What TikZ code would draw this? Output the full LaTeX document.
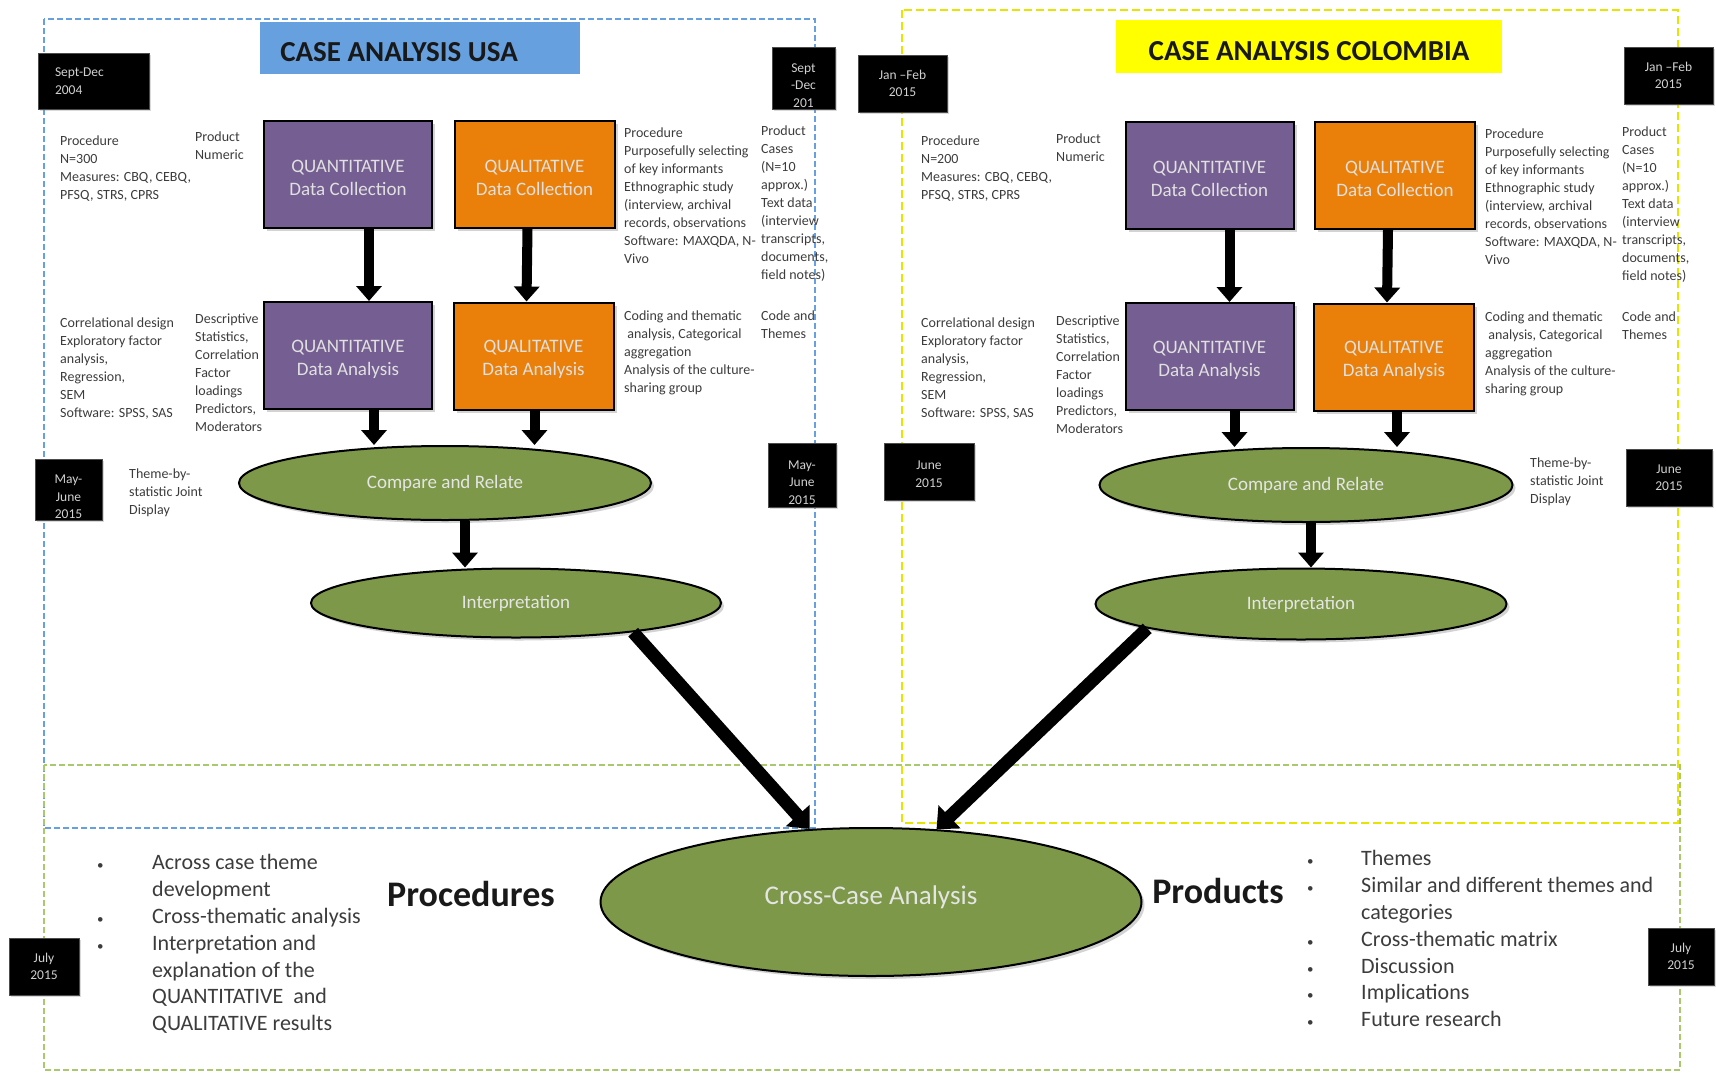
\documentclass[tikz,border=0pt]{standalone}
\usepackage{fontspec}
\setmainfont{Carlito}
\usepackage{tikz}
\usetikzlibrary{arrows.meta,shapes.geometric,shadows}

\definecolor{quantpurple}{RGB}{117,94,145}
\definecolor{qualorange}{RGB}{234,128,10}
\definecolor{ovalgreen}{RGB}{125,152,72}
\definecolor{usablue}{RGB}{102,160,222}
\definecolor{colyellow}{RGB}{255,255,0}
\definecolor{framegreen}{RGB}{170,200,110}
\definecolor{notegray}{RGB}{60,60,60}

\tikzset{
  databox/.style={draw=black, line width=2pt, minimum height=107pt, inner sep=0pt,
    align=center, text=white!88!black, font=\fontsize{19}{23}\selectfont,
    drop shadow={shadow xshift=3pt, shadow yshift=-3pt, opacity=0.35}},
  quantbox/.style={databox, fill=quantpurple, minimum width=168pt},
  qualbox/.style={databox, fill=qualorange, minimum width=160pt},
  oval/.style={ellipse, draw=black, line width=2pt, fill=ovalgreen, inner sep=0pt,
    text=white!90!black, font=\fontsize{19}{23}\selectfont,
    drop shadow={shadow xshift=3pt, shadow yshift=-3pt, opacity=0.35}},
  datebox/.style={fill=black, draw=black!70, inner sep=0pt, align=center,
    text=white!82!black, font=\fontsize{13.5}{17.5}\selectfont,
    drop shadow={shadow xshift=2pt, shadow yshift=-2pt, opacity=0.3}},
  note/.style={anchor=north west, inner sep=0pt, align=left, text=notegray,
    font=\fontsize{14}{18}\selectfont},
  title/.style={font=\fontsize{29}{34}\bfseries, text=black!90},
  flow/.style={line width=10pt, -{Triangle[length=15pt,width=25pt]}},
  bigflow/.style={line width=13pt, -{Triangle[length=18pt,width=31pt]}},
}

\newcommand{\bulletfont}{\fontsize{22}{26.8}\selectfont}
\newcommand{\smallbul}{{\fontsize{13}{13}\selectfont •}}
\newcommand{\boxstrut}{\rule{0pt}{20pt}}
\newcommand{\datestrut}{\rule{0pt}{24pt}}

\begin{document}
\begin{tikzpicture}[x=1pt,y=-1pt]
\useasboundingbox (0,0) rectangle (1716,1074);

% Frames round the two cases and the cross-case part
\draw[usablue, line width=2pt, dash pattern=on 6pt off 3pt] (44,19) rectangle (815,828);
\draw[colyellow!90!black, line width=2pt, dash pattern=on 8pt off 4pt] (902,10) rectangle (1678,823);
\draw[framegreen, line width=2pt, dash pattern=on 6pt off 3pt] (44,765) rectangle (1680,1070);

% Titles
\node[fill=usablue, minimum width=320pt, minimum height=52pt] (tusa) at (420,48) {};
\node[title] (tusatext) at (399,52) {CASE ANALYSIS USA};
\node[fill=colyellow, minimum width=386pt, minimum height=53pt] (tcol) at (1309,46.5) {};
\node[title] (tcoltext) at (1309,51) {CASE ANALYSIS COLOMBIA};

% Notes of the USA case
\node[note] (procnu) at (60,136) {Procedure\\N=300\\Measures: CBQ, CEBQ,\\PFSQ, STRS, CPRS};
\node[note] (prodnu) at (195,132) {Product\\Numeric};
\node[note] (proclu) at (624,128) {Procedure\\Purposefully selecting\\of key informants\\Ethnographic study\\(interview, archival\\records, observations\\Software: MAXQDA, N-\\Vivo};
\node[note] (prodlu) at (761,126) {Product\\Cases\\(N=10\\approx.)\\Text data\\(interview\\transcripts,\\documents,\\field notes)};
\node[note] (anaqnu) at (60,318) {Correlational design\\Exploratory factor\\analysis,\\Regression,\\SEM\\Software: SPSS, SAS};
\node[note] (resqnu) at (195,314) {Descriptive\\Statistics,\\Correlation\\Factor\\loadings\\Predictors,\\Moderators};
\node[note] (anaqlu) at (624,311) {Coding and thematic\\\ analysis, Categorical\\aggregation\\Analysis of the culture-\\sharing group};
\node[note] (resqlu) at (761,311) {Code and\\Themes};
\node[note] (jointu) at (129,469) {Theme-by-\\statistic Joint\\Display};

% Notes of the Colombia case
\node[note] (procnc) at (921,136) {Procedure\\N=200\\Measures: CBQ, CEBQ,\\PFSQ, STRS, CPRS};
\node[note] (prodnc) at (1056,134) {Product\\Numeric};
\node[note] (proclc) at (1485,129) {Procedure\\Purposefully selecting\\of key informants\\Ethnographic study\\(interview, archival\\records, observations\\Software: MAXQDA, N-\\Vivo};
\node[note] (prodlc) at (1622,127) {Product\\Cases\\(N=10\\approx.)\\Text data\\(interview\\transcripts,\\documents,\\field notes)};
\node[note] (anaqnc) at (921,318) {Correlational design\\Exploratory factor\\analysis,\\Regression,\\SEM\\Software: SPSS, SAS};
\node[note] (resqnc) at (1056,316) {Descriptive\\Statistics,\\Correlation\\Factor\\loadings\\Predictors,\\Moderators};
\node[note] (anaqlc) at (1485,312) {Coding and thematic\\\ analysis, Categorical\\aggregation\\Analysis of the culture-\\sharing group};
\node[note] (resqlc) at (1622,312) {Code and\\Themes};
\node[note] (jointc) at (1530,458) {Theme-by-\\statistic Joint\\Display};

% Data boxes
\node[quantbox] (qncu) at (348,174) {\boxstrut QUANTITATIVE\\Data Collection};
\node[qualbox] (qlcu) at (534.5,174) {\boxstrut QUALITATIVE\\Data Collection};
\node[quantbox] (qnau) at (348,355.5) {\boxstrut QUANTITATIVE\\Data Analysis};
\node[qualbox] (qlau) at (533.5,356) {\boxstrut QUALITATIVE\\Data Analysis};
\node[quantbox] (qncc) at (1209.5,175) {\boxstrut QUANTITATIVE\\Data Collection};
\node[qualbox] (qlcc) at (1395,175) {\boxstrut QUALITATIVE\\Data Collection};
\node[quantbox] (qnac) at (1209.5,356.5) {\boxstrut QUANTITATIVE\\Data Analysis};
\node[qualbox] (qlac) at (1394,357) {\boxstrut QUALITATIVE\\Data Analysis};

% Ovals
\node[oval, minimum width=412pt, minimum height=74pt] (cru) at (445,483) {\raisebox{-3pt}{Compare and Relate}};
\node[oval, minimum width=410pt, minimum height=69pt] (iu) at (516,603) {Interpretation};
\node[oval, minimum width=413pt, minimum height=74pt] (crc) at (1306,485) {\raisebox{-2pt}{Compare and Relate}};
\node[oval, minimum width=411pt, minimum height=71pt] (ic) at (1301,604) {Interpretation};
\node[oval, minimum width=541pt, minimum height=148pt, font=\fontsize{27}{32}\selectfont] (cc) at (871,902) {\raisebox{14pt}{Cross-Case Analysis}};

% Arrows of the USA case
\draw[flow] ([xshift=21pt]qncu.south) -- ([xshift=21pt]qnau.north);
\draw[flow] ([xshift=-7pt]qlcu.south) -- ([xshift=-7pt]qlau.north);
\draw[flow] ([xshift=26pt]qnau.south) -- ([xshift=26pt]qnau.south |- cru.north);
\draw[flow] ([xshift=1pt]qlau.south) -- ([xshift=1pt]qlau.south |- cru.north);
\draw[flow] ([xshift=20pt]cru.south) -- ([xshift=20pt]cru.south |- iu.north);

% Arrows of the Colombia case
\draw[flow] ([xshift=20pt]qncc.south) -- ([xshift=20pt]qnac.north);
\draw[flow] ([xshift=-7pt]qlcc.south) -- ([xshift=-7pt]qlac.north);
\draw[flow] ([xshift=25pt]qnac.south) -- ([xshift=25pt]qnac.south |- crc.north);
\draw[flow] ([xshift=3pt]qlac.south) -- ([xshift=3pt]qlac.south |- crc.north);
\draw[flow] ([xshift=5pt]crc.south) -- ([xshift=5pt]crc.south |- ic.north);

% Both cases into the cross-case analysis
\draw[bigflow] (iu.-14) -- (cc.130);
\draw[bigflow] (ic.-171) -- (cc.48);

% Dates
\node[datebox, minimum width=111pt, minimum height=56pt, text width=77pt, align=left] (d1) at (93.5,81) {Sept-Dec\\2004};
\node[datebox, minimum width=63pt, minimum height=62pt] (d2) at (803.5,78) {\datestrut Sept\\-Dec\\201};
\node[datebox, minimum width=89pt, minimum height=57pt] (d3) at (902.5,83.5) {Jan –Feb\\2015};
\node[datebox, minimum width=89pt, minimum height=57pt] (d4) at (1668.5,75.5) {Jan –Feb\\2015};
\node[datebox, minimum width=67pt, minimum height=61pt] (d5) at (68.5,489.5) {\datestrut May-\\June\\2015};
\node[datebox, minimum width=68pt, minimum height=64pt] (d6) at (802,475) {\datestrut May-\\June\\2015};
\node[datebox, minimum width=90pt, minimum height=57pt] (d7) at (929,471.5) {\rule{0pt}{14pt}June\\2015};
\node[datebox, minimum width=86pt, minimum height=57pt] (d8) at (1669,477.5) {June\\2015};
\node[datebox, minimum width=70pt, minimum height=57pt] (d9) at (44,966.5) {July\\2015};
\node[datebox, minimum width=66pt, minimum height=57pt] (d10) at (1681,956.5) {July\\2015};

% Procedures and products of the cross-case analysis
\node[anchor=north west, inner sep=0pt, text=notegray, font=\bulletfont] (proclist) at (97,851) {%
  \begin{tabular}{@{}p{55pt}@{}l@{}}
  \smallbul & Across case theme\\
       & development\\
  \smallbul & Cross-thematic analysis\\
  \smallbul & Interpretation and\\
       & explanation of the\\
       & QUANTITATIVE\ \ and\\
       & QUALITATIVE results
  \end{tabular}};
\node[font=\fontsize{36}{40}\bfseries, text=black!90] (procs) at (471,894) {Procedures};
\node[font=\fontsize{36}{40}\bfseries, text=black!90] (prods) at (1218,891) {Products};
\node[anchor=north west, inner sep=0pt, text=notegray, font=\bulletfont] (prodlist) at (1307,847) {%
  \begin{tabular}{@{}p{54pt}@{}l@{}}
  \smallbul & Themes\\
  \smallbul & Similar and different themes and\\
       & categories\\
  \smallbul & Cross-thematic matrix\\
  \smallbul & Discussion\\
  \smallbul & Implications\\
  \smallbul & Future research
  \end{tabular}};
\end{tikzpicture}
\end{document}
